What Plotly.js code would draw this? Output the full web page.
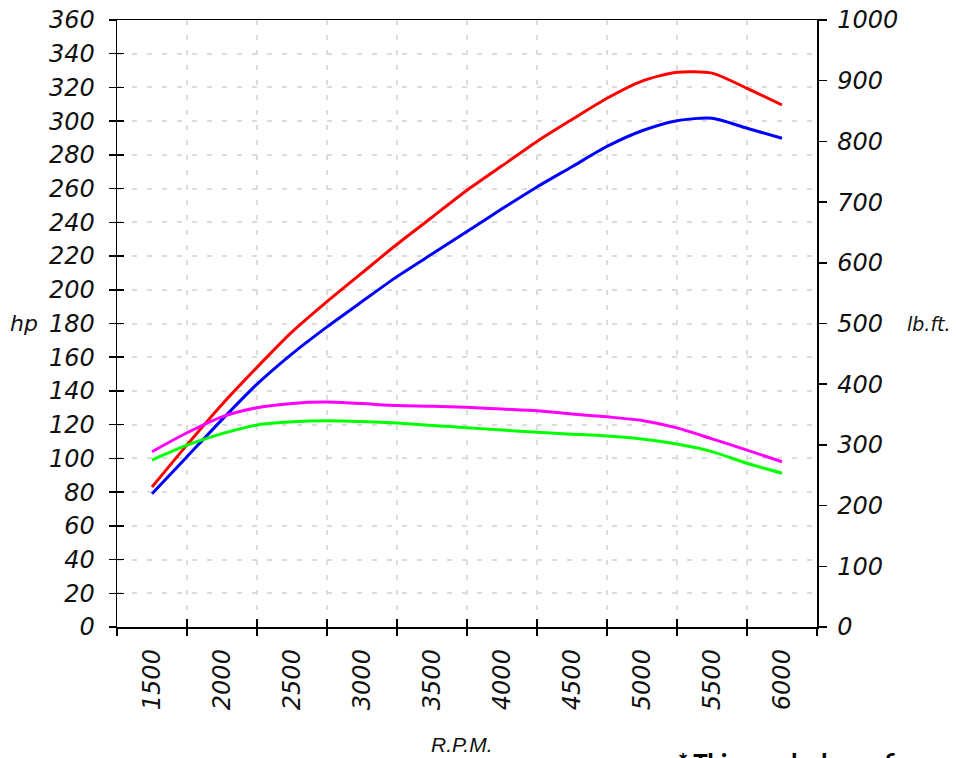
<!DOCTYPE html>
<html>
<head>
<meta charset="utf-8">
<script src="https://cdn.plot.ly/plotly-3.0.1.min.js"></script>
<style>html,body{margin:0;padding:0;background:#fff;overflow:hidden}#chart{width:956px;height:758px}</style>
</head>
<body>
<div id="chart"></div>
<script>
// ---- data ----
const rpm = [1500,1750,2000,2250,2500,2750,3000,3250,3500,3750,4000,4250,4500,4750,5000,5250,5500,5750,6000];
const rpmTickLabels = ['1500','2000','2500','3000','3500','4000','4500','5000','5500','6000'];
const rpmTickVals = [1500,2000,2500,3000,3500,4000,4500,5000,5500,6000];
const gridRpm = [1250,1750,2250,2750,3250,3750,4250,4750,5250,5750,6250];
const hpTuned  = [83,108,132,154,175,193,210,227,243,259,273.5,288,301,313.6,323.8,329,328.5,319.5,309.6];
const hpStock  = [79,101,123,144,162,178,193,207.8,221.2,234.5,248,261,273,285,294.3,300.3,301.7,295.8,289.9];
const tqTuned  = [288.8,320,346.3,361.3,368.4,370.5,368,364.8,363.7,361.9,359.1,356.4,351,346.2,340.3,328,310,291.5,272.3];
const tqStock  = [275.1,299.5,318.6,332.8,338,339.9,338.5,336,332.1,328.3,324.5,320.7,317.7,314.7,309.9,301.5,289,269.7,253.2];
const hpTicks = [0,20,40,60,80,100,120,140,160,180,200,220,240,260,280,300,320,340,360];
const lbTicks = [0,100,200,300,400,500,600,700,800,900,1000];

const F = 'DejaVu Sans';
const tickFont = {family:F, size:24, color:'#111', style:'italic'};
const lineStyle = c => ({color:c, width:3, shape:'spline', smoothing:0.7});

const traces = [
  {x:rpm, y:hpTuned, type:'scatter', mode:'lines', line:lineStyle('#ff0000'), xaxis:'x', yaxis:'y', hoverinfo:'skip'},
  {x:rpm, y:hpStock, type:'scatter', mode:'lines', line:lineStyle('#0000ff'), xaxis:'x', yaxis:'y', hoverinfo:'skip'},
  {x:rpm, y:tqTuned, type:'scatter', mode:'lines', line:lineStyle('#ff00ff'), xaxis:'x', yaxis:'y2', hoverinfo:'skip'},
  {x:rpm, y:tqStock, type:'scatter', mode:'lines', line:lineStyle('#00ff00'), xaxis:'x', yaxis:'y2', hoverinfo:'skip'},
  // helper traces so the tick/grid overlay axes get drawn
  {x:[gridRpm[0]], y:[hpTicks[0]], type:'scatter', mode:'markers', marker:{opacity:0}, xaxis:'x2', yaxis:'y3', hoverinfo:'skip'},
  {x:[gridRpm[0]], y:[hpTicks[0]], type:'scatter', mode:'markers', marker:{opacity:0}, xaxis:'x3', yaxis:'y4', hoverinfo:'skip'}
];

const xr = [gridRpm[0], gridRpm[gridRpm.length-1]];
const layout = {
  width:956, height:758,
  margin:{l:117, r:139, t:20, b:131},
  paper_bgcolor:'#fff', plot_bgcolor:'#fff',
  showlegend:false,
  xaxis:{range:xr, tickmode:'array', tickvals:rpmTickVals, ticktext:rpmTickLabels, tickangle:-90,
         ticks:'', showgrid:false, zeroline:false, showline:true, linecolor:'#000', linewidth:1.5, mirror:true,
         tickfont:tickFont, ticklabelstandoff:11, fixedrange:true},
  xaxis2:{range:xr, overlaying:'x', anchor:'y3', tickmode:'array', tickvals:gridRpm, ticks:'outside', ticklen:8, tickwidth:1.5, tickcolor:'#000',
          showticklabels:false, showgrid:true, gridcolor:'#dcdcdc', gridwidth:2, griddash:'5px,10px', zeroline:false, showline:false},
  xaxis3:{range:xr, overlaying:'x', anchor:'y4', tickmode:'array', tickvals:gridRpm, ticks:'inside', ticklen:8, tickwidth:1.5, tickcolor:'#000',
          showticklabels:false, showgrid:false, zeroline:false, showline:false},
  yaxis:{range:[0,360], tickmode:'array', tickvals:hpTicks, ticks:'outside', ticklen:7, tickwidth:1.5, tickcolor:'#000',
         showgrid:true, gridcolor:'#dcdcdc', gridwidth:2, griddash:'5px,10px', zeroline:false,
         showline:true, linecolor:'#000', linewidth:1.5, tickfont:tickFont, ticklabelstandoff:9},
  yaxis3:{range:[0,360], overlaying:'y', side:'left', anchor:'x2', tickmode:'array', tickvals:hpTicks, ticks:'inside', ticklen:7, tickwidth:1.5, tickcolor:'#000',
          showticklabels:false, showgrid:false, zeroline:false, showline:false},
  yaxis4:{range:[0,360], overlaying:'y', side:'left', anchor:'x3', showticklabels:false, showgrid:false, zeroline:false, showline:false, ticks:''},
  yaxis2:{range:[0,1000], overlaying:'y', side:'right', anchor:'x', tickmode:'array', tickvals:lbTicks, ticks:'outside', ticklen:8, tickwidth:1.5, tickcolor:'#000',
          showgrid:false, zeroline:false, showline:true, linecolor:'#000', linewidth:1.5, tickfont:tickFont, ticklabelstandoff:6},
  annotations:[
    {text:'hp', xref:'paper', yref:'y', x:(24-117)/700, y:180, xanchor:'center', yanchor:'middle', showarrow:false,
     font:{family:F, size:22, color:'#111', style:'italic'}},
    {text:'lb.ft.', xref:'paper', yref:'y', x:(905-117)/700, y:180, xanchor:'left', yanchor:'middle', showarrow:false,
     font:{family:F, size:19, color:'#111', style:'italic'}},
    {text:'R.P.M.', xref:'paper', yref:'paper', x:(461-117)/700, y:(627-744)/607, xanchor:'center', yanchor:'middle', showarrow:false,
     font:{family:'Liberation Sans', size:21, color:'#111', style:'italic'}},
    {text:'* This graph shows figures', xref:'paper', yref:'paper', x:(676-117)/700, y:(627-762)/607, xanchor:'left', yanchor:'middle', showarrow:false,
     font:{family:'Lato', size:24, color:'#000', weight:900}}
  ]
};
Plotly.newPlot('chart', traces, layout, {displayModeBar:false, staticPlot:true});
</script>
</body>
</html>
